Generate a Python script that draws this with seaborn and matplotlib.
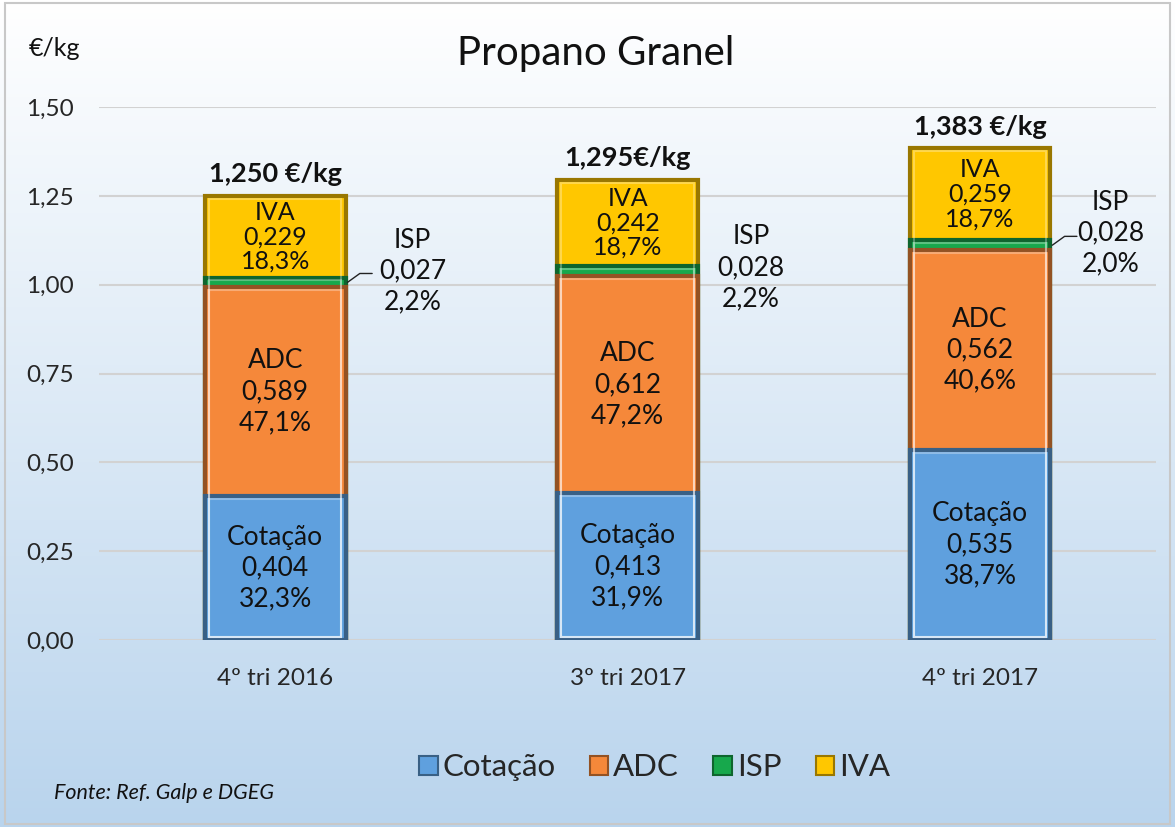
import numpy as np
import pandas as pd
import matplotlib
matplotlib.use("Agg")
import matplotlib.pyplot as plt
import matplotlib.colors as mcolors
from matplotlib.patches import Patch, Rectangle
import seaborn as sns

# ── DATA ─────────────────────────────────────────
periods = ["4º tri 2016", "3º tri 2017", "4º tri 2017"]
components = ["Cotação", "ADC", "ISP", "IVA"]
cotacao = [0.404, 0.413, 0.535]
adc = [0.589, 0.612, 0.562]
isp = [0.027, 0.028, 0.028]
iva = [0.229, 0.242, 0.259]
cotacao_pct = ["32,3%", "31,9%", "38,7%"]
adc_pct = ["47,1%", "47,2%", "40,6%"]
isp_pct = ["2,2%", "2,2%", "2,0%"]
iva_pct = ["18,3%", "18,7%", "18,7%"]
totals = ["1,250 €/kg", "1,295€/kg", "1,383 €/kg"]
yticks = [0.0, 0.25, 0.5, 0.75, 1.0, 1.25, 1.5]

COLORS = {
    "Cotação": "#5fa0de",
    "ADC": "#f5883a",
    "ISP": "#17a84c",
    "IVA": "#ffc700",
}


def darker(c, k=0.6):
    return tuple(v * k for v in mcolors.to_rgb(c))


sns.set_theme(style="white")
plt.rcParams["font.family"] = ["Lato", "DejaVu Sans"]

fig = plt.figure(figsize=(11.75, 8.27), dpi=100)

# background gradient + border
bg = fig.add_axes([0, 0, 1, 1], zorder=-10)
grad = np.linspace(0, 1, 256).reshape(-1, 1)
cmap = mcolors.LinearSegmentedColormap.from_list("bg", ["#ffffff", "#b9d4ed"])
bg.imshow(grad, aspect="auto", cmap=cmap, extent=[0, 1, 0, 1], origin="upper")
bg.add_patch(Rectangle((0.004, 0.004), 0.992, 0.992, fill=False,
                       edgecolor="#c8c8c8", linewidth=1.5, transform=bg.transAxes))
bg.set_axis_off()

ax = fig.add_axes([0.0843, 0.2261, 0.8997, 0.6445])
ax.patch.set_alpha(0)

df = pd.DataFrame({"period": periods, "Cotação": cotacao, "ADC": adc,
                   "ISP": isp, "IVA": iva})
cum = df[components].cumsum(axis=1)

# stacked via overlapping cumulative bars, top layer first
for comp in reversed(components):
    c = COLORS[comp]
    sns.barplot(x=df["period"], y=cum[comp], color=c, width=0.4,
                edgecolor=darker(c), linewidth=3, saturation=1, ax=ax)

# subtle inner highlight for bevel look
for p in list(ax.patches):
    x, y = p.get_x(), p.get_y()
    w, h = p.get_width(), p.get_height()
    ax.add_patch(Rectangle((x + 0.012, y + 0.008), w - 0.024, h - 0.016,
                           fill=False, edgecolor="white", alpha=0.3, linewidth=1.5))

ax.set_ylim(0, 1.5)
ax.set_xlim(-0.5, 2.5)
ax.set_yticks(yticks)
ax.set_yticklabels([f"{v:.2f}".replace(".", ",") for v in yticks], fontsize=17.5)
ax.tick_params(axis="x", labelsize=17.5, pad=14)
ax.tick_params(axis="y", pad=12)
ax.set_xlabel("")
ax.set_ylabel("")
ax.grid(axis="y", color="#d2d2d2", linewidth=1.5)
ax.set_axisbelow(True)
sns.despine(ax=ax, left=True, bottom=True)

fmt = lambda v: f"{v:.3f}".replace(".", ",")

for i in range(len(periods)):
    base = 0
    for comp, vals, pcts in [("Cotação", cotacao, cotacao_pct), ("ADC", adc, adc_pct),
                             ("IVA", iva, iva_pct)]:
        if comp == "IVA":
            base = cotacao[i] + adc[i] + isp[i]
        size = 19 if comp != "IVA" else 18
        ls = 1.3 if comp != "IVA" else 1.08
        ax.text(i, base + vals[i] / 2, f"{comp}\n{fmt(vals[i])}\n{pcts[i]}",
                ha="center", va="center", fontsize=size, linespacing=ls,
                color="#111111")
        base += vals[i]
    top = cotacao[i] + adc[i] + isp[i] + iva[i]
    ax.annotate(totals[i], (i, top), xytext=(0, 7), textcoords="offset points",
                ha="center", va="bottom", fontsize=19.5, fontweight="bold",
                color="#111111")

# ISP labels beside the bars
isp_dx = [0.39, 0.35, 0.37]
isp_dy = [0.032, 0.008, 0.034]
for i in range(len(periods)):
    mid = cotacao[i] + adc[i] + isp[i] / 2
    ax.text(i + isp_dx[i], mid + isp_dy[i], f"ISP\n{fmt(isp[i])}\n{isp_pct[i]}",
            ha="center", va="center", fontsize=19, linespacing=1.3, color="#111111")
    if i != 1:
        x0 = i + 0.205
        ax.plot([x0, x0 + 0.035, x0 + 0.07], [mid, mid + 0.025, mid + 0.025],
                color="#222222", linewidth=1, clip_on=False)

fig.text(0.507, 0.935, "Propano Granel", ha="center", va="center", fontsize=29,
         color="#111111")
fig.text(0.024, 0.941, "€/kg", ha="left", va="center", fontsize=18, color="#111111")
fig.text(0.046, 0.041, "Fonte: Ref. Galp e DGEG", ha="left", va="center",
         fontsize=15.5, style="italic", color="#111111")

handles = [Patch(facecolor=COLORS[c], edgecolor=darker(COLORS[c]), linewidth=1.5)
           for c in components]
fig.legend(handles, components, loc="center", bbox_to_anchor=(0.557, 0.072),
           ncol=4, frameon=False, fontsize=22.5, handlelength=0.6, handleheight=0.6,
           handletextpad=0.15, columnspacing=1.1)

fig.savefig("out.png", dpi=100)
